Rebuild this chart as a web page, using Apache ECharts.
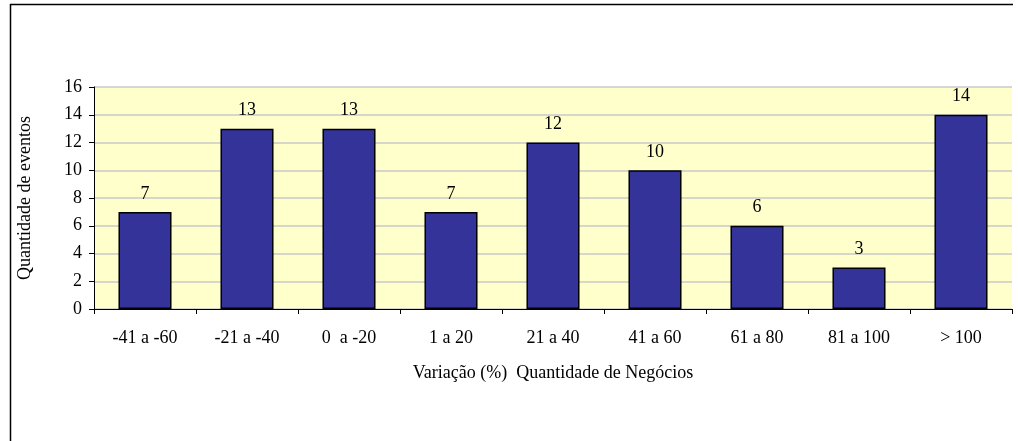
<!DOCTYPE html>
<html>
<head>
<meta charset="utf-8">
<script src="https://cdn.jsdelivr.net/npm/echarts@6/dist/echarts.min.js"></script>
<style>
html, body { margin: 0; padding: 0; background: #fff; }
#chart { width: 1018px; height: 441px; }
</style>
</head>
<body>
<div id="chart"></div>
<script>
// faixas de variação e quantidade de eventos
var categorias = ['-41 a -60', '-21 a -40', '0  a -20', '1 a 20', '21 a 40', '41 a 60', '61 a 80', '81 a 100', '> 100'];
var eventos = [7, 13, 13, 7, 12, 10, 6, 3, 14];

var fonte = 'Liberation Serif, Times New Roman, serif';
var chart = echarts.init(document.getElementById('chart'));

var option = {
    animation: false,
    textStyle: { fontFamily: fonte },
    grid: {
        left: 94,
        right: 6,
        top: 87,
        bottom: 132,
        show: true,
        backgroundColor: '#FFFFCC',
        borderWidth: 0
    },
    graphic: [
        // moldura externa (só topo e esquerda aparecem no recorte)
        { type: 'line', shape: { x1: 10, y1: 4.5, x2: 1013, y2: 4.5 }, style: { stroke: '#000', lineWidth: 1.5 } },
        { type: 'line', shape: { x1: 10.5, y1: 4, x2: 10.5, y2: 441 }, style: { stroke: '#000', lineWidth: 1.5 } }
    ],
    xAxis: {
        type: 'category',
        data: categorias,
        name: 'Variação (%)  Quantidade de Negócios',
        nameLocation: 'middle',
        nameGap: 55,
        nameTextStyle: { color: '#000', fontSize: 18, fontFamily: fonte },
        axisLine: { lineStyle: { color: '#000', width: 1 } },
        axisTick: { show: true, length: 5, alignWithLabel: false, lineStyle: { color: '#000' } },
        axisLabel: { color: '#000', fontSize: 18, margin: 20, fontFamily: fonte }
    },
    yAxis: {
        type: 'value',
        min: 0,
        max: 16,
        interval: 2,
        name: 'Quantidade de eventos',
        nameLocation: 'middle',
        nameGap: 60,
        nameRotate: 90,
        nameTextStyle: { color: '#000', fontSize: 18, fontFamily: fonte },
        axisLine: { show: true, lineStyle: { color: '#000', width: 1 } },
        axisTick: { show: true, length: 5, lineStyle: { color: '#000' } },
        axisLabel: { color: '#000', fontSize: 18, margin: 12, fontFamily: fonte },
        splitLine: { show: true, lineStyle: { color: '#C8C8C8', width: 1.5 } }
    },
    series: [{
        type: 'bar',
        data: eventos,
        barWidth: '52%',
        itemStyle: { color: '#333399', borderColor: '#000', borderWidth: 1.5 },
        label: {
            show: true,
            position: 'top',
            distance: 9,
            color: '#000',
            fontSize: 18,
            fontFamily: fonte
        }
    }]
};

chart.setOption(option);
</script>
</body>
</html>
